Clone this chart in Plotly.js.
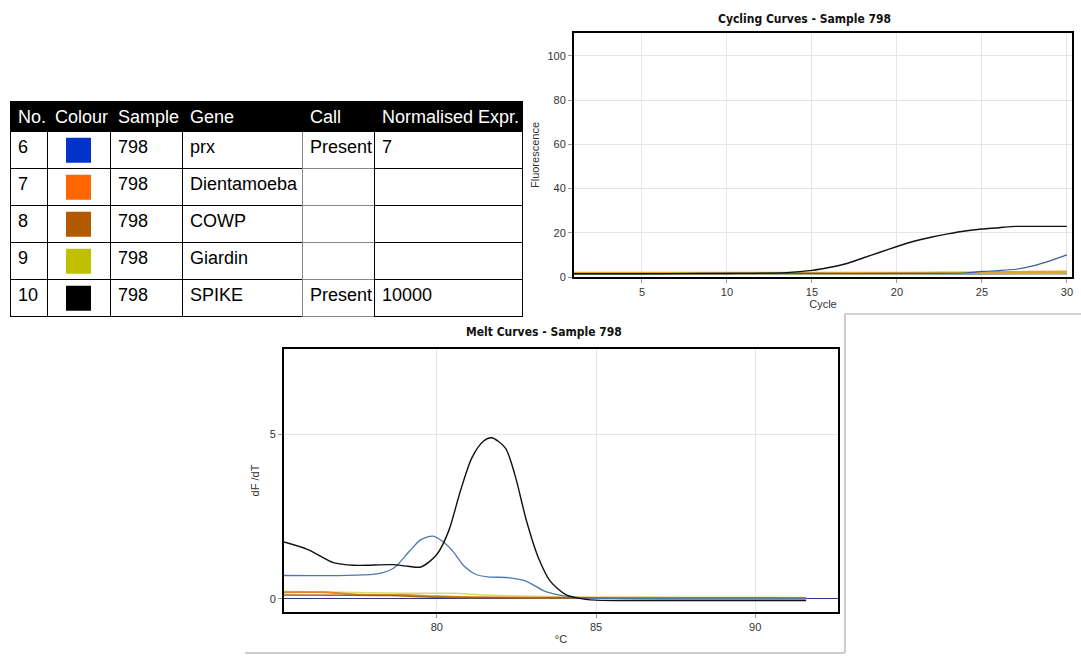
<!DOCTYPE html>
<html>
<head>
<meta charset="utf-8">
<script src="https://cdn.plot.ly/plotly-3.0.1.min.js"></script>
<style>html,body{margin:0;padding:0;background:#fff;}#chart{width:1081px;height:657px;}</style>
</head>
<body>
<div id="chart"></div>
<script>
// ---------- Table data ----------
const nos      = ['6', '7', '8', '9', '10'];
const samples  = ['798', '798', '798', '798', '798'];
const genes    = ['prx', 'Dientamoeba', 'COWP', 'Giardin', 'SPIKE'];
const calls    = ['Present', '', '', '', 'Present'];
const exprs    = ['7', '', '', '', '10000'];
const swatchColours = ['#0433cc', '#ff6600', '#b35900', '#c0c000', '#000000'];
const headers  = ['No.', 'Colour', 'Sample', 'Gene', 'Call', 'Normalised\u00a0Expr.'];

// ---------- Cycling curves (Cycle vs Fluorescence) ----------
const cycSpikeX = [1, 5, 10, 13.5, 15, 16, 17, 18, 19, 20, 21, 22, 23, 24, 25, 26, 26.5, 27, 28, 29, 30];
const cycSpikeY = [1.5, 1.5, 1.6, 2.0, 3.0, 4.3, 6.0, 8.6, 11.2, 13.8, 16.2, 18.0, 19.5, 20.8, 21.7, 22.3, 22.7, 22.9, 22.9, 22.9, 22.9];
const cycPrxX   = [1, 5, 8, 10, 15, 20, 24, 25, 26, 27, 28, 29, 30];
const cycPrxY   = [1.5, 1.5, 1.6, 1.6, 1.6, 1.6, 1.8, 2.5, 2.9, 3.5, 5.0, 7.3, 10.0];
const cycDientX = [1, 5, 10, 15, 20, 22.5, 25, 28, 30];
const cycDientY = [1.8, 1.8, 1.8, 1.8, 1.8, 1.9, 2.0, 2.3, 2.4];
const cycCowpX  = [1, 5, 10, 15, 20, 25, 30];
const cycCowpY  = [1.2, 1.2, 1.2, 1.2, 1.2, 1.3, 1.4];
const cycGiarX  = [1, 5, 10, 15, 20, 25, 30];
const cycGiarY  = [1.6, 1.6, 1.6, 1.6, 1.6, 1.6, 1.7];

// ---------- Melt curves (°C vs dF/dT) ----------
const meltSpikeX = [75.2, 75.95, 76.75, 77.4, 78.6, 79.1, 79.5, 80.0, 80.37, 80.74, 81.1, 81.47, 81.72, 82.15, 82.45, 82.82, 83.19, 83.56, 84.05, 84.4, 85.0, 87, 89, 91.6];
const meltSpikeY = [1.73, 1.50, 1.10, 1.02, 1.04, 0.99, 0.97, 1.35, 2.06, 3.28, 4.29, 4.80, 4.90, 4.59, 3.78, 2.36, 1.25, 0.54, 0.13, 0.03, -0.04, -0.05, -0.05, -0.05];
const meltPrxX   = [75.2, 78.16, 78.65, 79.14, 79.5, 79.88, 80.18, 80.5, 80.86, 81.23, 81.6, 82.3, 82.8, 83.4, 84.05, 84.4, 86, 88, 90, 91.6];
const meltPrxY   = [0.71, 0.77, 0.94, 1.45, 1.80, 1.91, 1.75, 1.45, 0.99, 0.74, 0.67, 0.64, 0.54, 0.23, 0.08, 0.03, 0.01, 0.0, 0.0, 0.0];
const meltDientX = [75.2, 76.5, 77.5, 79, 80, 81.5, 83, 85, 87, 89, 91.6];
const meltDientY = [0.20, 0.20, 0.13, 0.12, 0.08, 0.05, 0.04, 0.03, 0.03, 0.03, 0.02];
const meltCowpX  = [75.2, 77, 78.5, 80, 82, 84, 86, 88, 90, 91.6];
const meltCowpY  = [0.12, 0.11, 0.10, 0.05, 0.03, 0.03, 0.02, 0.02, 0.02, 0.02];
const meltGiarX  = [75.2, 77, 79, 80.5, 81.5, 83, 85, 88, 90.5, 91.6];
const meltGiarY  = [0.22, 0.20, 0.17, 0.17, 0.12, 0.08, 0.06, 0.05, 0.05, 0.04];

const W = 1081, H = 657;
const px = v => v / W;
const py = v => 1 - v / H;

const FONT = 'Liberation Sans, Arial, sans-serif';
const TFONT = 'DejaVu Sans Condensed, DejaVu Sans, sans-serif';

function line(x, y, color, width, xa, ya, name) {
  return {type: 'scatter', mode: 'lines', x: x, y: y, name: name,
          line: {color: color, width: width, shape: 'spline', smoothing: 0.8}, xaxis: xa, yaxis: ya,
          hoverinfo: 'x+y', showlegend: false};
}

const traces = [
  {
    type: 'table',
    domain: {x: [px(10), px(522)], y: [py(318), py(101.7)]},
    columnwidth: [37, 63, 72, 120, 72, 148],
    header: {
      values: headers,
      align: 'left',
      height: 30,
      fill: {color: '#000000'},
      line: {color: '#000000', width: 1},
      font: {family: FONT, size: 18, color: '#ffffff'}
    },
    cells: {
      values: [nos, nos.map(() => ''), samples, genes, calls, exprs],
      align: 'left',
      height: 37,
      fill: {color: 'rgba(255,255,255,0)'},
      line: {color: ['#000000', '#000000', '#000000', '#000000', '#888888', '#000000'], width: 1},
      font: {family: FONT, size: 18, color: '#000000'}
    }
  },
  {
    type: 'scatter', mode: 'markers', x: samples, y: nos,
    xaxis: 'x3', yaxis: 'y3', showlegend: false, hoverinfo: 'none',
    marker: {symbol: 'square', size: 25, color: swatchColours, line: {width: 0}}
  },
  // cycling
  line(cycCowpX, cycCowpY, '#8fa8a4', 1.5, 'x', 'y', 'COWP'),
  line(cycGiarX, cycGiarY, '#c9b25a', 1.2, 'x', 'y', 'Giardin'),
  line(cycDientX, cycDientY, '#e3a42a', 2.5, 'x', 'y', 'Dientamoeba'),
  line(cycPrxX, cycPrxY, '#3a5f9a', 1.2, 'x', 'y', 'prx'),
  line(cycSpikeX, cycSpikeY, '#111111', 1.4, 'x', 'y', 'SPIKE'),
  // melt
  line(meltGiarX, meltGiarY, '#e6d27a', 1.5, 'x2', 'y2', 'Giardin'),
  line(meltDientX, meltDientY, '#d98b22', 1.8, 'x2', 'y2', 'Dientamoeba'),
  line(meltCowpX, meltCowpY, '#a5621c', 1.5, 'x2', 'y2', 'COWP'),
  line(meltPrxX, meltPrxY, '#4f78b0', 1.3, 'x2', 'y2', 'prx'),
  line(meltSpikeX, meltSpikeY, '#111111', 1.4, 'x2', 'y2', 'SPIKE')
];

const axCommon = {
  showgrid: true, gridcolor: '#e6e6e6', gridwidth: 1,
  showline: true, linecolor: '#000000', linewidth: 2, mirror: true,
  ticks: 'outside', ticklen: 4, tickcolor: '#999999', tickwidth: 1,
  tickfont: {family: FONT, size: 11, color: '#333333'},
  zeroline: false, fixedrange: true
};

const layout = {
  width: W, height: H,
  margin: {l: 0, r: 0, t: 0, b: 0},
  paper_bgcolor: '#ffffff', plot_bgcolor: '#ffffff',
  showlegend: false,
  xaxis: Object.assign({}, axCommon, {
    domain: [px(574), px(1072)], range: [1, 30.3], tick0: 0, dtick: 5, anchor: 'y',
    title: {text: 'Cycle', font: {family: FONT, size: 11, color: '#333333'}, standoff: 3}
  }),
  yaxis: Object.assign({}, axCommon, {
    domain: [py(277), py(33)], range: [0, 110.4], tick0: 0, dtick: 20, anchor: 'x',
    title: {text: 'Fluorescence', font: {family: FONT, size: 11, color: '#333333'}, standoff: 6}
  }),
  xaxis2: Object.assign({}, axCommon, {
    domain: [px(284), px(838)], range: [75.2, 92.6], tick0: 0, dtick: 5, anchor: 'y2',
    title: {text: '°C', font: {family: FONT, size: 11, color: '#333333'}, standoff: 3}
  }),
  yaxis2: Object.assign({}, axCommon, {
    domain: [py(612), py(349)], range: [-0.4, 7.6], tick0: 0, dtick: 5, anchor: 'x2',
    zeroline: true, zerolinecolor: '#34348a', zerolinewidth: 1.2,
    title: {text: 'dF /dT', font: {family: FONT, size: 11, color: '#333333'}, standoff: 8}
  }),
  xaxis3: {domain: [px(47), px(110)], type: 'category', range: [-0.5, 0.5], autorange: false,
           visible: false, fixedrange: true, anchor: 'y3'},
  yaxis3: {domain: [py(316.7), py(131.7)], type: 'category', categoryorder: 'array', categoryarray: nos,
           range: [4.5, -0.5], autorange: false, visible: false, fixedrange: true, anchor: 'x3'},
  annotations: [
    {xref: 'paper', yref: 'paper', x: px(804), y: py(19), text: '<b>Cycling Curves - Sample 798</b>',
     showarrow: false, xanchor: 'center', yanchor: 'middle',
     font: {family: TFONT, size: 12, color: '#111111'}},
    {xref: 'paper', yref: 'paper', x: px(544), y: py(332), text: '<b>Melt Curves - Sample 798</b>',
     showarrow: false, xanchor: 'center', yanchor: 'middle',
     font: {family: TFONT, size: 12, color: '#111111'}}
  ],
  shapes: [
    {type: 'line', xref: 'paper', yref: 'paper', x0: px(845), x1: px(1081), y0: py(314), y1: py(314), line: {color: '#c4c4c4', width: 1.5}},
    {type: 'line', xref: 'paper', yref: 'paper', x0: px(845), x1: px(845), y0: py(314), y1: py(653), line: {color: '#bdbdbd', width: 1.5}},
    {type: 'line', xref: 'paper', yref: 'paper', x0: px(245), x1: px(845), y0: py(653), y1: py(653), line: {color: '#bdbdbd', width: 1.5}}
  ]
};

Plotly.newPlot('chart', traces, layout, {displayModeBar: false, staticPlot: false});
</script>
</body>
</html>
